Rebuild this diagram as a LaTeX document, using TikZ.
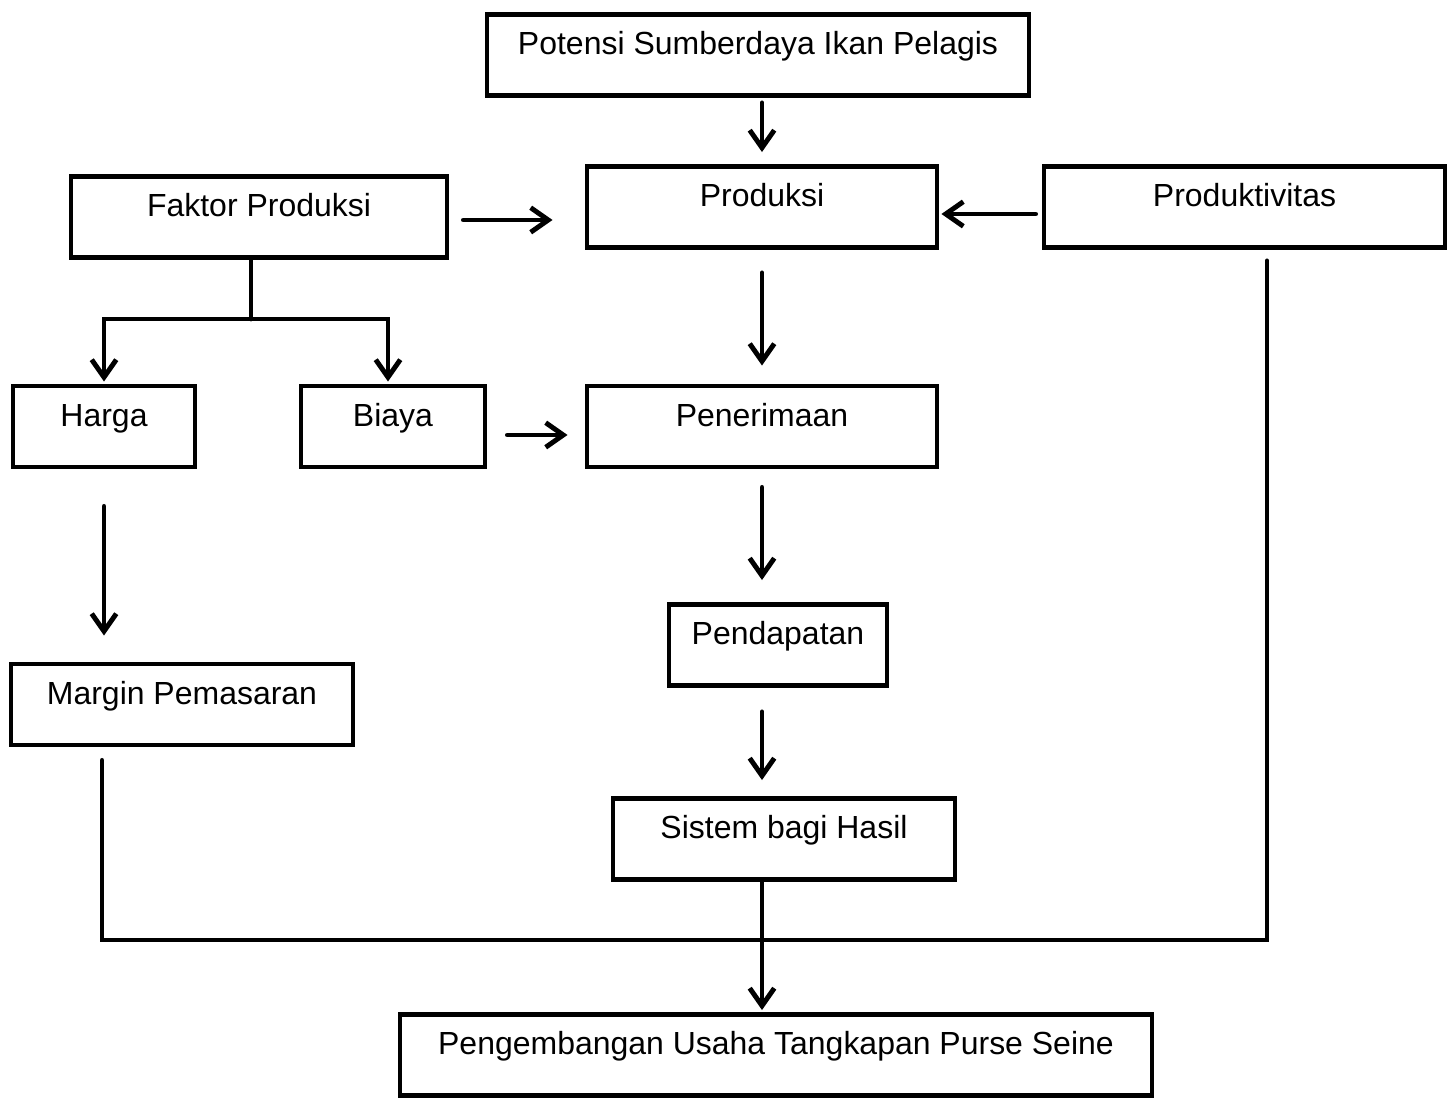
\documentclass[tikz,border=0pt]{standalone}
\usepackage{fontspec}
\setmainfont{Liberation Sans}
\usetikzlibrary{positioning,arrows.meta}

\begin{document}
\begin{tikzpicture}[>={Straight Barb[length=5pt,width=7pt]},
    box/.style={draw, line width=1.4pt, inner xsep=0pt, inner ysep=0pt,
        text height=0.405cm, text depth=0.405cm, minimum width=#1,
        font=\fontsize{9.1}{11}\selectfont},
    link/.style={line width=1.4pt, line cap=round}]
    \useasboundingbox (0,0) rectangle (14.54,-10.98);

    % top
    \node[box=5.42cm] (pot) at (7.58,-0.55) {Potensi Sumberdaya Ikan Pelagis};
    \node[box=3.76cm] (fak) at (2.59,-2.17) {Faktor Produksi};
    \node[box=3.50cm] (prod) at (7.62,-2.07) {Produksi};
    \node[box=4.01cm] (prodv) at (12.445,-2.07) {Produktivitas};

    % middle row
    \node[box=1.82cm] (harga) at (1.04,-4.265) {Harga};
    \node[box=1.84cm] (biaya) at (3.93,-4.265) {Biaya};
    \node[box=3.50cm] (pen) at (7.62,-4.265) {Penerimaan};
    \node[box=2.18cm] (pend) at (7.78,-6.45) {Pendapatan};
    \node[box=3.42cm] (margin) at (1.82,-7.045) {Margin Pemasaran};
    \node[box=3.42cm] (sis) at (7.84,-8.39) {Sistem bagi Hasil};

    % bottom
    \node[box=7.52cm] (peng) at (7.76,-10.55) {Pengembangan Usaha Tangkapan Purse Seine};

    \coordinate (split) at (2.51,-3.19);
    \coordinate (lowL) at (1.02,-9.40);
    \coordinate (lowM) at (7.62,-9.40);
    \coordinate (lowR) at (12.67,-9.40);

    \draw[link, ->, shorten <=0.05cm, shorten >=0.12cm] (pot.south -| prod.south) -- (prod.north);
    \draw[link, ->, shorten <=0.14cm, shorten >=0.32cm] ([yshift=-0.03cm]fak.east) -- ([yshift=-0.03cm]fak.east -| prod.west);
    \draw[link, ->, shorten <=0.06cm, shorten >=0.02cm] ([yshift=-0.07cm]prodv.west) -- ([yshift=-0.07cm]prodv.west -| prod.east);
    \draw[link, ->, shorten <=0.23cm, shorten >=0.18cm] (prod.south) -- (pen.north);
    \draw[link, ->, shorten <=0.20cm, shorten >=0.17cm] ([yshift=-0.085cm]biaya.east) -- ([yshift=-0.085cm]biaya.east -| pen.west);
    \draw[link, ->, shorten <=0.18cm, shorten >=0.22cm] (pen.south) -- (pen.south |- pend.north);
    \draw[link, ->, shorten <=0.37cm, shorten >=0.26cm] (harga.south) -- (harga.south |- margin.north);
    \draw[link, ->, shorten <=0.24cm, shorten >=0.16cm] (pend.south -| pen.south) -- (sis.north -| pen.south);

    % Faktor Produksi splits to Harga and Biaya
    \draw[link] (fak.south -| split) -- (split);
    \draw[link, ->, shorten >=0.02cm] (split) -| (harga.north);
    \draw[link, ->, shorten >=0.02cm] (split) -| ([xshift=-0.05cm]biaya.north);

    % collecting line to the bottom box
    \draw[link, shorten <=0.13cm, shorten >=0.11cm] (margin.south -| lowL) -- (lowL) -- (lowR) -- (prodv.south -| lowR);
    \draw[link, ->, shorten >=0.02cm] (sis.south -| lowM) -- (peng.north -| lowM);
\end{tikzpicture}
\end{document}
